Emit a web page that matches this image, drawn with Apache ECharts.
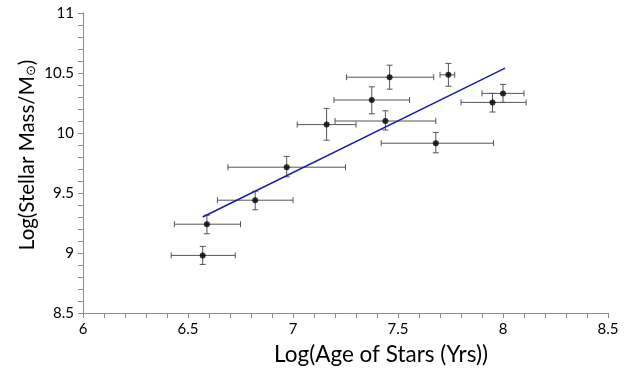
<!DOCTYPE html>
<html>
<head>
<meta charset="utf-8">
<script src="https://cdn.jsdelivr.net/npm/echarts@6/dist/echarts.min.js"></script>
<style>
  html, body { margin: 0; padding: 0; background: #fff; }
  #main { width: 633px; height: 372px; }
</style>
</head>
<body>
<div id="main"></div>
<script>
// log age (x) and log stellar mass (y) with error ranges
const ageVals  = [6.57, 6.59, 6.82, 6.97, 7.16, 7.375, 7.44, 7.46, 7.68, 7.74, 7.95, 8.00];
const ageLow   = [6.42, 6.435, 6.64, 6.69, 7.02, 7.195, 7.20, 7.255, 7.42, 7.70, 7.80, 7.90];
const ageHigh  = [6.725, 6.75, 7.00, 7.25, 7.30, 7.555, 7.68, 7.67, 7.955, 7.77, 8.11, 8.10];
const massVals = [8.98, 9.24, 9.44, 9.715, 10.07, 10.275, 10.10, 10.465, 9.915, 10.485, 10.255, 10.33];
const massLow  = [8.905, 9.16, 9.36, 9.635, 9.94, 10.16, 10.025, 10.365, 9.835, 10.39, 10.175, 10.255];
const massHigh = [9.055, 9.315, 9.515, 9.805, 10.205, 10.385, 10.185, 10.565, 10.005, 10.58, 10.33, 10.405];

// fitted line end points
const fitAge  = [6.57, 8.01];
const fitMass = [9.30, 10.54];

const xTicks = [6, 6.5, 7, 7.5, 8, 8.5];
const yTicks = [8.5, 9, 9.5, 10, 10.5, 11];

const xTitle = 'Log(Age of Stars (Yrs))';
const yTitle = 'Log(Stellar Mass/M{sub|\u2299})';

const font = 'Lato, "Open Sans", sans-serif';
const axisGrey = '#8c8c8c';

const points = ageVals.map((x, i) => [x, massVals[i]]);
const errData = ageVals.map((x, i) => [x, massVals[i], ageLow[i], ageHigh[i], massLow[i], massHigh[i]]);

function renderErr(params, api) {
  const c = api.coord([api.value(0), api.value(1)]);
  const xl = api.coord([api.value(2), api.value(1)]);
  const xh = api.coord([api.value(3), api.value(1)]);
  const yl = api.coord([api.value(0), api.value(4)]);
  const yh = api.coord([api.value(0), api.value(5)]);
  const cap = 3;
  const style = { stroke: '#555', lineWidth: 1 };
  const seg = (x1, y1, x2, y2) => ({ type: 'line', shape: { x1, y1, x2, y2 }, style });
  return {
    type: 'group',
    children: [
      seg(xl[0], c[1], xh[0], c[1]),
      seg(xl[0], c[1] - cap, xl[0], c[1] + cap),
      seg(xh[0], c[1] - cap, xh[0], c[1] + cap),
      seg(c[0], yl[1], c[0], yh[1]),
      seg(c[0] - cap, yl[1], c[0] + cap, yl[1]),
      seg(c[0] - cap, yh[1], c[0] + cap, yh[1])
    ]
  };
}

const myChart = echarts.init(document.getElementById('main'));
const option = {
  animation: false,
  backgroundColor: '#fff',
  grid: { left: 83, right: 25, top: 13, bottom: 59 },
  graphic: [
    {
      type: 'text',
      x: 381, y: 355,
      style: {
        text: xTitle, fontFamily: font, fontSize: 22.5, fill: '#000',
        align: 'center', verticalAlign: 'middle'
      }
    },
    {
      type: 'text',
      x: 27, y: 155,
      rotation: Math.PI / 2,
      style: {
        text: yTitle, fontFamily: font, fontSize: 20.5, fill: '#000',
        align: 'center', verticalAlign: 'middle',
        rich: { sub: { fontFamily: font, fontSize: 13, fill: '#000', padding: [8, 0, 0, 0] } }
      }
    }
  ],
  xAxis: {
    type: 'value',
    min: xTicks[0],
    max: xTicks[xTicks.length - 1],
    interval: 0.5,
    axisLine: { lineStyle: { color: axisGrey } },
    axisTick: { show: true, length: 5, lineStyle: { color: axisGrey } },
    minorTick: { show: true, splitNumber: 5, length: 5, lineStyle: { color: axisGrey } },
    splitLine: { show: false },
    axisLabel: { fontFamily: font, fontSize: 15, color: '#000', margin: 9 }
  },
  yAxis: {
    type: 'value',
    min: yTicks[0],
    max: yTicks[yTicks.length - 1],
    interval: 0.5,
    axisLine: { show: true, lineStyle: { color: axisGrey } },
    axisTick: { show: true, length: 5, lineStyle: { color: axisGrey } },
    minorTick: { show: true, splitNumber: 5, length: 5, lineStyle: { color: axisGrey } },
    splitLine: { show: false },
    axisLabel: { fontFamily: font, fontSize: 15, color: '#000', margin: 9 }
  },
  series: [
    {
      type: 'custom',
      renderItem: renderErr,
      data: errData,
      encode: { x: 0, y: 1 },
      z: 2
    },
    {
      type: 'line',
      data: fitAge.map((x, i) => [x, fitMass[i]]),
      symbol: 'none',
      lineStyle: { color: '#1c1ca8', width: 1.5 },
      z: 3
    },
    {
      type: 'scatter',
      data: points,
      symbol: 'circle',
      symbolSize: 6,
      itemStyle: { color: '#000' },
      z: 4
    }
  ]
};
myChart.setOption(option);
</script>
</body>
</html>
